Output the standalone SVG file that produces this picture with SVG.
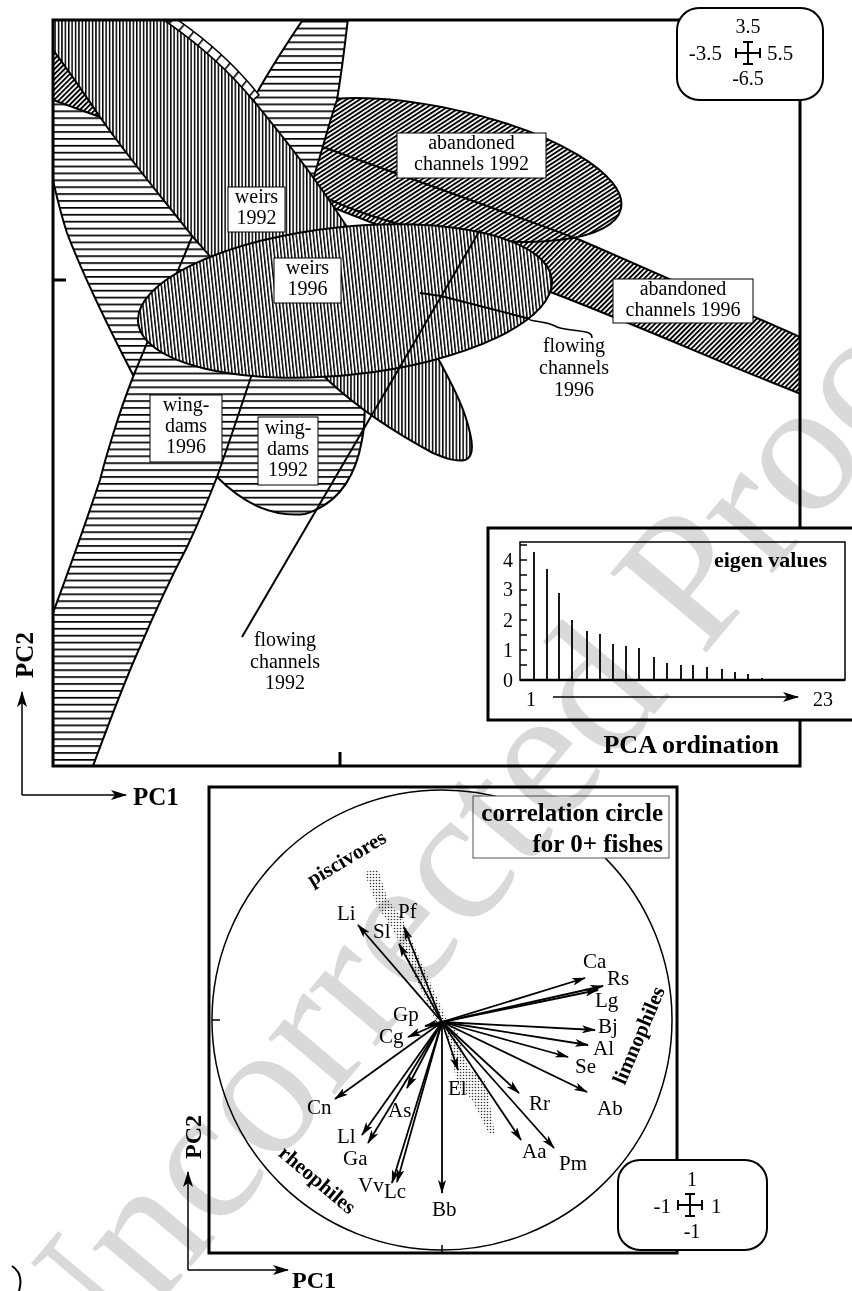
<svg xmlns="http://www.w3.org/2000/svg" width="852" height="1291" viewBox="0 0 852 1291">
<style>
text{font-family:"Liberation Serif","Times New Roman",serif;fill:#000}
.lbl{font-size:20px;text-anchor:middle}
.sp{font-size:21px}
.b{font-weight:bold}
.frame{fill:none;stroke:#000;stroke-width:3}
.ol{stroke:#000;stroke-width:2;stroke-linejoin:round}
.box{fill:#fff;stroke:#000;stroke-width:1}
.arr{stroke:#000;stroke-width:1.8;fill:none;marker-end:url(#ah)}
.ax{stroke:#000;stroke-width:1.5;fill:none}
.bar{stroke:#000;stroke-width:1.8}
.wm{font-size:190px;fill:#d9d9d9;mix-blend-mode:multiply}
</style>
<defs>
<pattern id="vh" width="3.4" height="10" patternUnits="userSpaceOnUse"><rect width="3.4" height="10" fill="#fff"/><rect width="1.5" height="10" fill="#000"/></pattern>
<pattern id="hh" width="10" height="6.9" patternUnits="userSpaceOnUse"><rect width="10" height="6.9" fill="#fff"/><rect width="10" height="1.7" fill="#000"/></pattern>
<pattern id="dh" width="3.6" height="10" patternUnits="userSpaceOnUse" patternTransform="rotate(45)"><rect width="3.6" height="10" fill="#fff"/><rect width="1.9" height="10" fill="#000"/></pattern>
<pattern id="sl" width="12" height="10" patternUnits="userSpaceOnUse" patternTransform="rotate(40)"><rect width="12" height="10" fill="#fff"/><rect width="1.6" height="10" fill="#000"/></pattern>
<pattern id="dots" width="3" height="3" patternUnits="userSpaceOnUse"><circle cx="1.5" cy="1.5" r="0.8" fill="#333"/></pattern>
<clipPath id="topclip"><rect x="53" y="20" width="747" height="746"/></clipPath>
<marker id="ah" viewBox="0 0 14 8" refX="13" refY="4" markerWidth="14" markerHeight="8" markerUnits="userSpaceOnUse" orient="auto"><path d="M0,0 L14,4 L0,8 L3.5,4 Z" fill="#000"/></marker>
<marker id="ahb" viewBox="0 0 16 10" refX="15" refY="5" markerWidth="16" markerHeight="10" markerUnits="userSpaceOnUse" orient="auto"><path d="M0,0 L16,5 L0,10 L4,5 Z" fill="#000"/></marker>
</defs>
<rect width="852" height="1291" fill="#fff"/>

<g id="pca-ordination">
<g clip-path="url(#topclip)">
<g id="wing-dams-1992-region"><path class="ol" fill="url(#hh)" d="M0,-10 C120,40 250,150 320,260 C360,330 370,400 362,440 C355,480 335,505 305,514 C270,518 240,500 217,477 C180,440 150,410 133,375 C115,340 85,280 67,233 C58,205 50,170 40,120 Z"/></g>
<g id="abandoned-1996-region"><path fill="url(#dh)" d="M-20,0 L53,30 C150,75 250,115 323,147 C400,175 500,210 580,240 C680,283 760,320 830,350 L830,405 C760,380 650,330 553,293 C400,235 250,175 100,117 L53,100 L-20,70 Z"/></g>
<g id="abandoned-1992-region"><ellipse class="ol" fill="url(#dh)" cx="440" cy="170" rx="185" ry="62" transform="rotate(12 440 170)"/></g>
<path class="ol" fill="none" d="M-20,0 L53,30 C150,75 250,115 323,147 C400,175 500,210 580,240 C680,283 760,320 830,350 M830,405 C760,380 650,330 553,293 C400,235 250,175 100,117 L53,100 L-20,70"/>
<g id="wing-dams-1996-region"><path class="ol" fill="url(#hh)" d="M330,-20 C310,10 280,50 253,100 C225,150 200,210 192,237 C170,290 150,335 133,377 C118,415 105,460 100,480 C90,510 80,540 53,613 L20,720 L40,800 L93,766 C110,720 125,680 140,647 C160,600 175,570 187,547 C200,520 210,495 217,477 C230,440 240,410 250,380 C270,320 280,290 290,260 C300,230 308,200 315,173 C325,140 333,110 337,100 C342,70 346,40 352,-20 Z"/></g>
<g id="weirs-1992-region"><path class="ol" fill="url(#vh)" d="M60,-40 C110,-10 140,0 167,22 C200,45 230,72 253,100 C280,133 310,170 347,227 C380,275 420,330 440,362 C455,390 465,410 470,433 C474,450 472,458 465,460 C455,462 445,458 433,453 C390,430 355,405 330,382 C290,345 240,295 213,260 C205,250 198,243 193,237 C160,195 130,160 100,117 C85,95 70,72 53,50 C40,30 20,0 0,-30 Z"/>
<path fill="url(#sl)" stroke="#000" stroke-width="1.5" d="M167,22 C200,45 230,72 253,100 L259,95 C236,66 207,40 175,18 Z"/></g>
<g id="weirs-1996-region"><ellipse class="ol" fill="url(#vh)" cx="345" cy="301" rx="208" ry="74" transform="rotate(-6 345 301)"/></g>
<g id="flowing-channels-1992-region"><path class="ol" fill="none" d="M480,230 L242,637"/></g>
<g id="flowing-channels-1996-region"><path class="ol" fill="none" d="M420,293 L441,296 L530,319"/><path fill="none" stroke="#000" stroke-width="1.5" d="M530,320 C540,322 548,322 555,326 C562,330 570,329 580,331 C588,332 592,333 592,338"/></g>
</g>
<rect class="frame" x="53" y="20" width="747" height="746"/>
<path class="frame" d="M53,280 H66 M340,752 V766"/>

<g id="label-weirs-1992"><rect class="box" x="228" y="187" width="57" height="45"/><text class="lbl" x="256.5" y="203">weirs</text><text class="lbl" x="256.5" y="224">1992</text></g>
<g id="label-weirs-1996"><rect class="box" x="274" y="258" width="67" height="45"/><text class="lbl" x="307.5" y="274">weirs</text><text class="lbl" x="307.5" y="295">1996</text></g>
<g id="label-abandoned-1992"><rect class="box" x="397" y="133" width="149" height="45"/><text class="lbl" x="471.5" y="149">abandoned</text><text class="lbl" x="471.5" y="170">channels 1992</text></g>
<g id="label-abandoned-1996"><rect class="box" x="613" y="279" width="140" height="44"/><text class="lbl" x="683" y="295">abandoned</text><text class="lbl" x="683" y="316">channels 1996</text></g>
<g id="label-wing-dams-1996"><rect class="box" x="150" y="395" width="72" height="67"/><text class="lbl" x="186" y="411">wing-</text><text class="lbl" x="186" y="432">dams</text><text class="lbl" x="186" y="453">1996</text></g>
<g id="label-wing-dams-1992"><rect class="box" x="258" y="417" width="60" height="68"/><text class="lbl" x="288" y="434">wing-</text><text class="lbl" x="288" y="455">dams</text><text class="lbl" x="288" y="476">1992</text></g>
<g id="label-flowing-1996"><text class="lbl" x="574" y="352">flowing</text><text class="lbl" x="574" y="374">channels</text><text class="lbl" x="574" y="396">1996</text></g>
<g id="label-flowing-1992"><text class="lbl" x="285" y="646">flowing</text><text class="lbl" x="285" y="668">channels</text><text class="lbl" x="285" y="689">1992</text></g>

<g id="scale-box-top">
<rect x="677" y="8" width="146" height="92" rx="22" fill="#fff" stroke="#000" stroke-width="2"/>
<text class="lbl" x="748" y="33">3.5</text>
<text class="sp" x="722" y="60" text-anchor="end">-3.5</text>
<text class="sp" x="767" y="60">5.5</text>
<text class="lbl" x="748" y="85">-6.5</text>
<path stroke="#000" stroke-width="2" fill="none" d="M748,42 V64 M736,53 H760 M743,42 H753 M743,64 H753 M736,48 V58 M760,48 V58"/>
</g>

<g id="eigen-values">
<rect x="488" y="528" width="380" height="192" fill="#fff" stroke="#000" stroke-width="3"/>
<rect x="520" y="542" width="325" height="138" fill="none" stroke="#000" stroke-width="1.5"/>
<path stroke="#000" stroke-width="2.5" d="M520,680 H845"/>
<path stroke="#000" stroke-width="1.5" d="M520,665 h7 M520,650 h7 M520,635 h7 M520,620 h7 M520,605 h7 M520,590 h7 M520,575 h7 M520,560 h7 M520,545 h7"/>
<g class="bar">
<path d="M534,680 V552 M547,680 V569 M559,680 V593 M572,680 V620 M587,680 V631 M600,680 V634 M613,680 V644 M626,680 V646 M639,680 V648 M654,680 V657 M667,680 V663 M681,680 V665 M693,680 V665 M707,680 V667 M722,680 V669 M735,680 V672 M748,680 V674 M762,680 V678 M775,680 V679"/>
</g>
<text class="lbl" x="508" y="567">4</text>
<text class="lbl" x="508" y="596">3</text>
<text class="lbl" x="508" y="627">2</text>
<text class="lbl" x="508" y="657">1</text>
<text class="lbl" x="508" y="687">0</text>
<text class="b" x="827" y="567" font-size="22" text-anchor="end">eigen values</text>
<text class="lbl" x="531" y="706">1</text>
<text class="lbl" x="823" y="706">23</text>
<path class="ax" d="M553,697 H798" marker-end="url(#ahb)"/>
</g>
<text class="b" x="779" y="753" font-size="26" text-anchor="end">PCA ordination</text>
</g>

<g id="axes-top">
<path class="ax" d="M22,795 V692" marker-end="url(#ahb)"/>
<path class="ax" d="M22,795 H126" marker-end="url(#ahb)"/>
<text class="b" font-size="25" transform="translate(33,655) rotate(-90)" text-anchor="middle">PC2</text>
<text class="b" font-size="25" x="133" y="805">PC1</text>
</g>

<g id="correlation-circle">
<rect class="frame" x="209" y="787" width="468" height="466"/>
<circle cx="442" cy="1020" r="230" fill="none" stroke="#000" stroke-width="1.5"/>
<path stroke="#000" stroke-width="1.5" d="M212,1020 H220 M442,1245 V1253"/>
<g id="stipple-piscivores"><path fill="url(#dots)" d="M364,872 L378,869 L388,900 L401,916 L447,1020 L437,1024 L392,928 L378,908 Z"/></g>
<g id="stipple-el"><path fill="url(#dots)" d="M445,1026 L455,1024 L468,1068 L486,1082 L495,1134 L489,1134 L471,1098 L458,1088 Z"/></g>
<g id="title-box"><rect x="473" y="796" width="196" height="62" fill="#fff" stroke="#555" stroke-width="1"/>
<text class="b" x="663" y="821" font-size="25" text-anchor="end">correlation circle</text>
<text class="b" x="663" y="852" font-size="25" text-anchor="end">for 0+ fishes</text></g>
<text class="b" font-size="21" text-anchor="middle" transform="translate(350,864) rotate(-31)">piscivores</text>
<text class="b" font-size="21" text-anchor="middle" transform="translate(645,1038) rotate(-67)">limnophiles</text>
<text class="b" font-size="21" text-anchor="middle" transform="translate(313,1185) rotate(40)">rheophiles</text>
</g>

<g id="connectors">
<path class="arr" d="M442,1022 L358,925"/>
<path class="arr" d="M442,1022 L399,944"/>
<path class="arr" d="M442,1022 L404,927"/>
<path class="arr" d="M442,1022 L425,1026"/>
<path class="arr" d="M442,1022 L408,1037"/>
<path class="arr" d="M442,1022 L335,1099"/>
<path class="arr" d="M442,1022 L362,1135"/>
<path class="arr" d="M442,1022 L368,1143"/>
<path class="arr" d="M442,1022 L407,1088"/>
<path class="arr" d="M442,1022 L392,1183"/>
<path class="arr" d="M442,1022 L397,1182"/>
<path class="arr" d="M442,1022 L442,1193"/>
<path class="arr" d="M442,1022 L458,1070"/>
<path class="arr" d="M442,1022 L519,1093"/>
<path class="arr" d="M442,1022 L521,1140"/>
<path class="arr" d="M442,1022 L554,1148"/>
<path class="arr" d="M442,1022 L587,1092"/>
<path class="arr" d="M442,1022 L568,1057"/>
<path class="arr" d="M442,1022 L588,1045"/>
<path class="arr" d="M442,1022 L595,1030"/>
<path class="arr" d="M442,1022 L598,990"/>
<path class="arr" d="M442,1022 L603,986"/>
<path class="arr" d="M442,1022 L585,978"/>
</g>

<g id="species-labels" class="sp">
<text x="337" y="920">Li</text>
<text x="398" y="918">Pf</text>
<text x="373" y="938">Sl</text>
<text x="393" y="1021">Gp</text>
<text x="379" y="1043">Cg</text>
<text x="307" y="1114">Cn</text>
<text x="388" y="1117">As</text>
<text x="337" y="1143">Ll</text>
<text x="343" y="1165">Ga</text>
<text x="358" y="1192">Vv</text>
<text x="384" y="1198">Lc</text>
<text x="432" y="1216">Bb</text>
<text x="448" y="1095">El</text>
<text x="529" y="1110">Rr</text>
<text x="522" y="1158">Aa</text>
<text x="559" y="1170">Pm</text>
<text x="597" y="1115">Ab</text>
<text x="575" y="1073">Se</text>
<text x="593" y="1055">Al</text>
<text x="598" y="1033">Bj</text>
<text x="595" y="1007">Lg</text>
<text x="607" y="985">Rs</text>
<text x="583" y="968">Ca</text>
</g>

<g id="scale-box-bottom">
<rect x="618" y="1160" width="149" height="90" rx="22" fill="#fff" stroke="#000" stroke-width="2"/>
<text class="lbl" x="692" y="1186">1</text>
<text class="sp" x="671" y="1213" text-anchor="end">-1</text>
<text class="sp" x="711" y="1213">1</text>
<text class="lbl" x="692" y="1238">-1</text>
<path stroke="#000" stroke-width="2" fill="none" d="M690,1194 V1216 M678,1205 H702 M685,1194 H695 M685,1216 H695 M678,1200 V1210 M702,1200 V1210"/>
</g>

<g id="axes-bottom">
<path class="ax" d="M188,1270 V1172" marker-end="url(#ahb)"/>
<path class="ax" d="M188,1270 H288" marker-end="url(#ahb)"/>
<text class="b" font-size="24" transform="translate(201,1137) rotate(-90)" text-anchor="middle">PC2</text>
<text class="b" font-size="24" x="292" y="1288">PC1</text>
</g>
<path stroke="#000" stroke-width="2" fill="none" d="M12,1266 Q24,1274 19,1291"/>

<text class="wm" x="0" y="0" transform="translate(68,1413) rotate(-50)">Uncorrected Proof</text>
</svg>
